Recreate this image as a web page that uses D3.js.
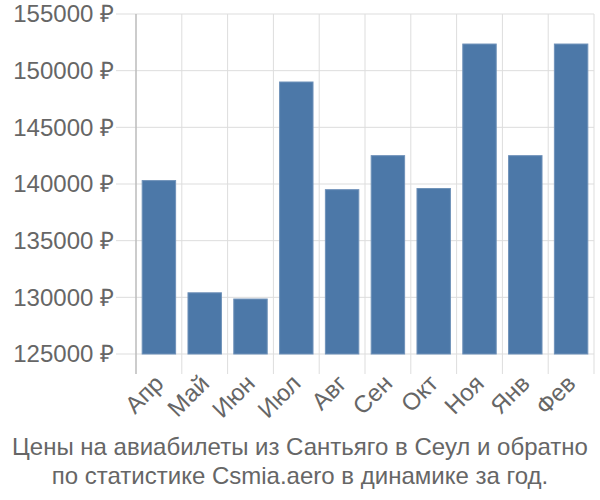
<!DOCTYPE html>
<html>
<head>
<meta charset="utf-8">
<script src="https://cdn.jsdelivr.net/npm/d3@7"></script>
<style>
  body { margin: 0; background: #fff; }
  text { font-family: "Liberation Sans", Arial, sans-serif; }
</style>
</head>
<body>
<script>
  const months = ["Апр", "Май", "Июн", "Июл", "Авг", "Сен", "Окт", "Ноя", "Янв", "Фев"];
  const prices = [140300, 130400, 129850, 149000, 139500, 142500, 139600, 152350, 142500, 152350];
  const yTicks = [125000, 130000, 135000, 140000, 145000, 150000, 155000];
  const titleLines = ["Цены на авиабилеты из Сантьяго в Сеул и обратно",
                      "по статистике Csmia.aero в динамике за год."];

  const w = 600, h = 500;
  const plotL = 136, plotR = 594, plotT = 14, plotB = 354;

  const svg = d3.select("body").append("svg")
                .attr("width", w)
                .attr("height", h);

  const x = d3.scaleBand()
              .domain(months)
              .range([plotL, plotR])
              .paddingInner(0.27)
              .paddingOuter(0.135);

  const y = d3.scaleLinear()
              .domain([125000, 155000])
              .range([plotB, plotT]);

  const bounds = d3.range(months.length + 1).map(i => plotL + i * (plotR - plotL) / months.length);

  // vertical grid lines
  svg.append("g").selectAll("line")
     .data(bounds)
     .enter().append("line")
     .attr("x1", d => d).attr("x2", d => d)
     .attr("y1", plotT).attr("y2", plotB + 20)
     .attr("stroke", "#dddddd")
     .attr("stroke-width", 1);

  // horizontal grid lines
  svg.append("g").selectAll("line")
     .data(yTicks)
     .enter().append("line")
     .attr("x1", plotL - 20).attr("x2", plotR)
     .attr("y1", d => y(d)).attr("y2", d => y(d))
     .attr("stroke", "#dddddd")
     .attr("stroke-width", 1);

  // left axis line
  svg.append("line")
     .attr("x1", plotL).attr("x2", plotL)
     .attr("y1", plotT).attr("y2", plotB + 20)
     .attr("stroke", "#aaaaaa");

  // bars
  svg.append("g").selectAll("rect")
     .data(prices)
     .enter().append("rect")
     .attr("x", (d, i) => x(months[i]))
     .attr("y", d => y(d))
     .attr("width", x.bandwidth())
     .attr("height", d => plotB - y(d))
     .attr("fill", "#4c78a8")
     .attr("stroke", "#6f91b9")
     .attr("stroke-width", 1);

  // y labels
  svg.append("g").selectAll("text")
     .data(yTicks)
     .enter().append("text")
     .attr("x", plotL - 22)
     .attr("y", d => y(d))
     .attr("dy", "0.35em")
     .attr("text-anchor", "end")
     .attr("font-size", 24)
     .attr("fill", "#666")
     .text(d => d + " ₽");

  // x labels
  svg.append("g").selectAll("text")
     .data(months)
     .enter().append("text")
     .attr("transform", d => `translate(${x(d) + x.bandwidth() / 2},${plotB + 25}) rotate(-45)`)
     .attr("text-anchor", "end")
     .attr("dy", "0.35em")
     .attr("font-size", 24)
     .attr("fill", "#666")
     .text(d => d);

  // title
  svg.append("g").selectAll("text")
     .data(titleLines)
     .enter().append("text")
     .attr("x", w / 2)
     .attr("y", (d, i) => 455 + i * 29)
     .attr("text-anchor", "middle")
     .attr("font-size", 24)
     .attr("fill", "#666")
     .text(d => d);
</script>
</body>
</html>
